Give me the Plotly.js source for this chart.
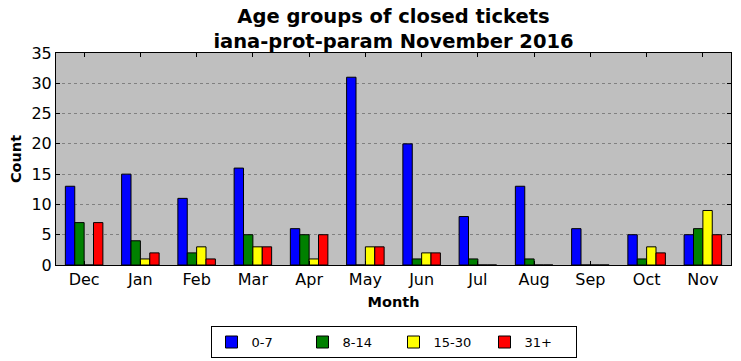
<!DOCTYPE html>
<html><head><meta charset="utf-8">
<script src="https://cdn.plot.ly/plotly-3.0.1.min.js"></script>
<style>body{margin:0}#c{width:741px;height:361px}</style>
</head><body><div id="c"></div>
<script>
const months = ["Dec","Jan","Feb","Mar","Apr","May","Jun","Jul","Aug","Sep","Oct","Nov"];
const seriesNames = ["0-7","8-14","15-30","31+"];
const s0_7   = [13,15,11,16,6,31,20,8,13,6,5,5];
const s8_14  = [7,4,2,5,5,0,1,1,1,0,1,6];
const s15_30 = [0,1,3,3,1,3,2,0,0,0,3,9];
const s31p   = [7,2,1,3,5,3,2,0,0,0,2,5];
const colors = ["#0000ff","#008000","#ffff00","#ff0000"];
const yTicks = [0,5,10,15,20,25,30,35];

const vals = [s0_7, s8_14, s15_30, s31p];
const traces = vals.map((v,i)=>({
  type:"bar", x:months, y:v, name:seriesNames[i],
  marker:{color:colors[i], line:{color:"#000", width:1}}
}));
const font = "DejaVu Sans, sans-serif";
Plotly.newPlot("c", traces, {
  width:741, height:361,
  margin:{l:56, r:10, t:53, b:96, autoexpand:false},
  paper_bgcolor:"#fff", plot_bgcolor:"#bfbfbf",
  barmode:"group", bargap:0.333, bargroupgap:0,
  font:{family:font, color:"#000"},
  title:{text:"<b>Age groups of closed tickets<br>iana-prot-param November 2016</b>",
    font:{size:19.5, family:font}, x:0.5, xanchor:"center", xref:"paper",
    y:1, yref:"paper", yanchor:"bottom", pad:{b:30}},
  xaxis:{range:[-0.5,11.5], tickfont:{size:16}, ticks:"inside", ticklen:4, tickcolor:"#000",
    showline:true, linecolor:"#000", linewidth:1, mirror:"ticks", showgrid:false,
    title:{text:"<b>Month</b>", font:{size:14.5}, standoff:8}},
  yaxis:{range:[0,35], tickvals:yTicks, tickfont:{size:16}, ticks:"inside", ticklen:4, tickcolor:"#000",
    showline:true, linecolor:"#000", linewidth:1, mirror:"ticks",
    showgrid:true, gridcolor:"#808080", griddash:"dot", gridwidth:1, zeroline:false,
    title:{text:"<b>Count</b>", font:{size:14.5}, standoff:6}},
  showlegend:true,
  legend:{orientation:"h", x:0.5, xanchor:"center", y:-0.288, yanchor:"top",
    bordercolor:"#000", borderwidth:1, font:{size:13}, traceorder:"normal",
    entrywidth:46, entrywidthmode:"pixels"}
}, {staticPlot:true});
</script></body></html>
